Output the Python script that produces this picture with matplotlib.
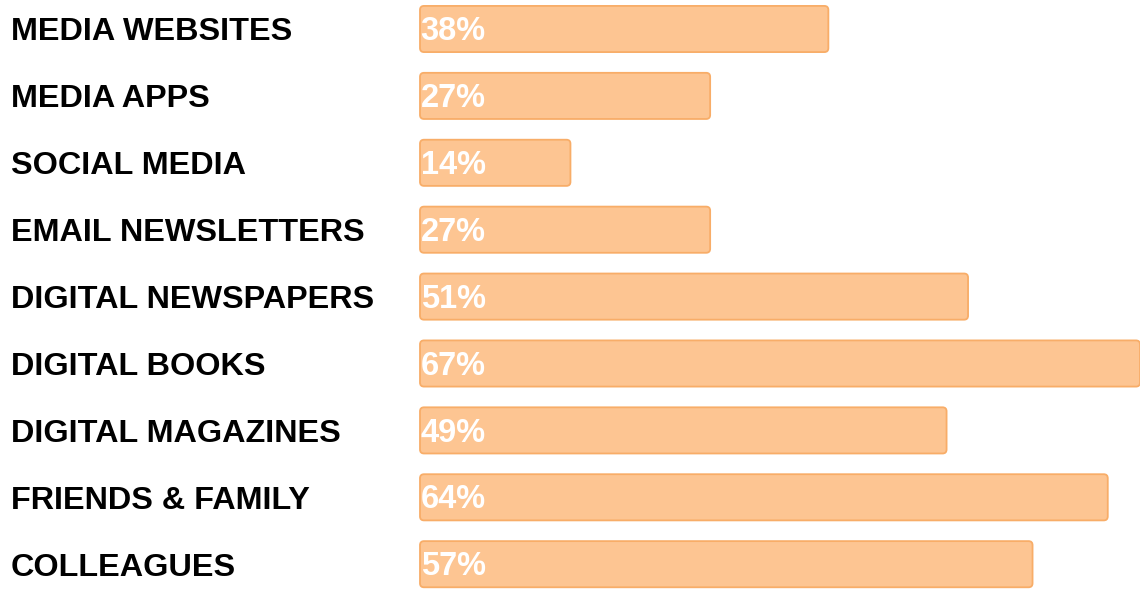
import matplotlib
matplotlib.use("Agg")
import matplotlib.pyplot as plt
from matplotlib.patches import FancyBboxPatch
from matplotlib.transforms import blended_transform_factory

categories = [
    "MEDIA WEBSITES",
    "MEDIA APPS",
    "SOCIAL MEDIA",
    "EMAIL NEWSLETTERS",
    "DIGITAL NEWSPAPERS",
    "DIGITAL BOOKS",
    "DIGITAL MAGAZINES",
    "FRIENDS & FAMILY",
    "COLLEAGUES",
]
values = [38, 27, 14, 27, 51, 67, 49, 64, 57]

BAR_FILL = "#fdc592"
BAR_EDGE = "#f8ad68"

plt.rcParams['font.family'] = ['Liberation Sans', 'DejaVu Sans']

W, H = 1140, 590
fig = plt.figure(figsize=(W / 100, H / 100), dpi=100)

# axes placed by pixel so the bars land where the reference has them
row_px = 66.9
ax_top = 29 - row_px / 2
ax_h = row_px * len(categories)
ax = fig.add_axes([420 / W, (H - ax_top - ax_h) / H, 720 / W, ax_h / H])
ax.set_xlim(0, 67)
ax.set_ylim(len(categories) - 0.5, -0.5)
ax.axis("off")

ypos = list(range(len(categories)))
bars = ax.barh(ypos, values, height=0.69, left=0, color="none", edgecolor="none")

# swap plain rects for rounded ones
px_x = 720 / 67
aspect = px_x / row_px
for rect in bars.patches:
    x, y = rect.get_x(), rect.get_y()
    w, h = rect.get_width(), rect.get_height()
    r = 4 / px_x
    box = FancyBboxPatch((x, y), w, h,
                         boxstyle=f"round,pad=0,rounding_size={r}",
                         mutation_aspect=aspect,
                         fc=BAR_FILL, ec=BAR_EDGE, lw=1.3, clip_on=False)
    ax.add_patch(box)

for y, v in zip(ypos, values):
    ax.text(0.05, y + 0.04, f"{v}%", color="white", fontsize=23.5,
            fontweight="bold", ha="left", va="center")

trans = blended_transform_factory(fig.transFigure, ax.transData)
for y, name in zip(ypos, categories):
    ax.text(11 / W, y + 0.05, name, transform=trans, fontsize=23.3,
            fontweight="bold", ha="left", va="center", color="black")

fig.savefig("out.png", dpi=100)
